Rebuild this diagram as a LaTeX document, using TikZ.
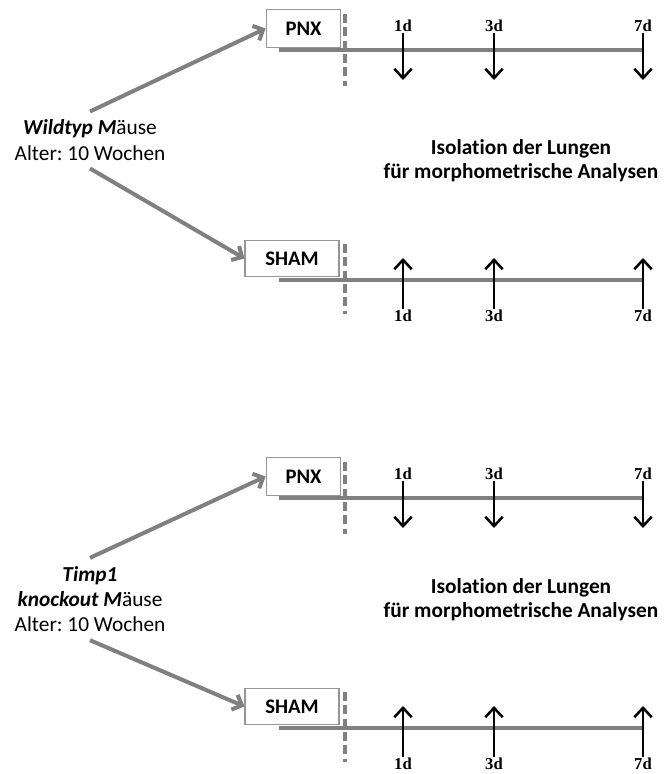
\documentclass[tikz,border=0pt]{standalone}
\usepackage{fontspec}
\setmainfont{Carlito}[Ligatures=NoCommon]
\newfontfamily\dayfont{Liberation Serif}
\usepackage{tikz}
\usetikzlibrary{arrows.meta}
\definecolor{lgray}{RGB}{128,128,128}
\definecolor{bgray}{RGB}{150,150,150}
\frenchspacing

\begin{document}
\begin{tikzpicture}[x=0.75pt,y=-0.75pt,
   grp/.style={align=center,font=\fontsize{16}{19}\selectfont,inner xsep=0pt,inner ysep=6pt},
   opbox/.style={draw=bgray,line width=0.8pt,fill=white,font=\bfseries\fontsize{15.5}{16}\selectfont,inner sep=0pt},
   iso/.style={align=center,font=\bfseries\fontsize{16}{18}\selectfont},
   daylbl/.style={font=\dayfont\bfseries\fontsize{12.5}{13}\selectfont,inner sep=1pt},
   grparrow/.style={lgray,line width=3pt,-{Straight Barb[length=6pt,width=12pt]}},
   dayarrow/.style={black,line width=1.9pt,-{Straight Barb[length=7pt,width=13pt]}},
   tline/.style={lgray,line width=2.4pt},
   cut/.style={lgray,line width=2.6pt,dash pattern=on 6.5pt off 3.5pt}]
  \useasboundingbox (0,0) rectangle (667,774);

  % --- Wildtyp ---
  \node[grp] (grpA) at (90,140) {\textbf{\textit{Wildtyp M}}äuse\\Alter: 10 Wochen};
   \draw[tline] (279,50) -- (643,50);
   \draw[tline] (279,280) -- (643,280);
   \draw[cut] (345,14) -- (345,86);
   \draw[cut] (345,244) -- (345,314);
  \node[opbox,minimum width=56pt,minimum height=29pt] (pnxA) at (303.5,28.5) {PNX};
  \node[opbox,minimum width=70.5pt,minimum height=27.5pt] (shamA) at (292,258.5) {SHAM};
   \draw[grparrow] (grpA.north) -- (pnxA.west);
   \draw[grparrow] (grpA.south) -- (shamA.west);
  \foreach \x/\d in {403/1,494/3,643/7}{
    \node[daylbl] (pdA\d) at (\x,26) {\d d};
    \coordinate (peA\d) at (\x,80);
    \draw[dayarrow] (pdA\d.south) -- (peA\d);
    \node[daylbl] (sdA\d) at (\x,316) {\d d};
    \coordinate (seA\d) at (\x,258);
    \draw[dayarrow] (sdA\d.north) -- (seA\d);
  }
  \node[iso] (isoA) at (521,161) {Isolation der Lungen\\für morphometrische Analysen};

  % --- Timp1 knockout ---
  \begin{scope}[shift={(0,448)}]
  \node[grp] (grpB) at (90,151) {\textbf{\textit{Timp1}}\\\textbf{\textit{knockout M}}äuse\\Alter: 10 Wochen};
   \draw[tline] (279,50) -- (643,50);
   \draw[tline] (279,280) -- (643,280);
   \draw[cut] (345,14) -- (345,86);
   \draw[cut] (345,244) -- (345,314);
  \node[opbox,minimum width=56pt,minimum height=29pt] (pnxB) at (303.5,28.5) {PNX};
  \node[opbox,minimum width=70.5pt,minimum height=27.5pt] (shamB) at (292,258.5) {SHAM};
   \draw[grparrow] (grpB.north) -- (pnxB.west);
   \draw[grparrow] (grpB.south) -- (shamB.west);
  \foreach \x/\d in {403/1,494/3,643/7}{
    \node[daylbl] (pdB\d) at (\x,26) {\d d};
    \coordinate (peB\d) at (\x,80);
    \draw[dayarrow] (pdB\d.south) -- (peB\d);
    \node[daylbl] (sdB\d) at (\x,316) {\d d};
    \coordinate (seB\d) at (\x,258);
    \draw[dayarrow] (sdB\d.north) -- (seB\d);
  }
  \node[iso] (isoB) at (521,152) {Isolation der Lungen\\für morphometrische Analysen};
  \end{scope}
\end{tikzpicture}
\end{document}
